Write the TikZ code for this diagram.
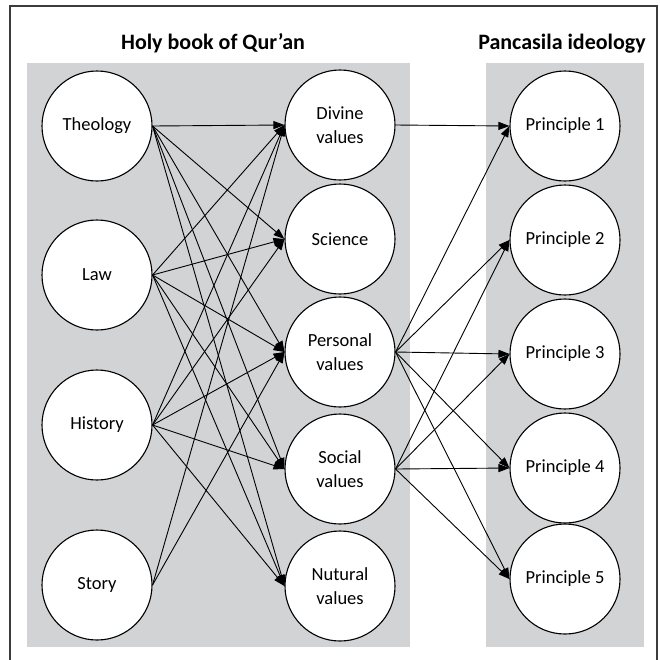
\documentclass[tikz,border=0pt]{standalone}
\usepackage{fontspec}
\setmainfont{Carlito}
\usetikzlibrary{arrows.meta}
\definecolor{panelgray}{RGB}{209,211,212}
\definecolor{framegray}{RGB}{60,60,60}
\tikzset{
  panel/.style={fill=panelgray,draw=none},
  bubble/.style={circle,draw,fill=white,line width=1.1pt,minimum size=110pt,inner sep=0pt,align=center,font=\fontsize{18.5}{23.5}\selectfont},
  ttl/.style={font=\bfseries\fontsize{22}{26}\selectfont,anchor=base},
  lnk/.style={line width=0.9pt,-{Triangle[length=11pt,width=8pt]}}
}
\begin{document}
\begin{tikzpicture}[x=1pt,y=-1pt]
  \useasboundingbox (0,0) rectangle (660,659);
  % frame and panels
  \draw[framegray,line width=1.2pt] (10,670) -- (10,6) -- (657,6) -- (657,670);
  \fill[panel] (27,63) rectangle (410,647);
  \fill[panel] (486,63) rectangle (644,647);
  \node[ttl] (tq) at (213,49) {Holy book of Qur’an};
  \node[ttl] (tp) at (562,49) {Pancasila ideology};
  % sources
  \node[bubble] (theo) at (97,126) {Theology};
  \node[bubble] (law) at (97,275) {Law};
  \node[bubble] (hist) at (97,425) {History};
  \node[bubble] (story) at (97,585) {Story};
  % values
  \node[bubble] (div) at (340,125) {Divine\\values};
  \node[bubble] (sci) at (340,239) {Science};
  \node[bubble] (pers) at (340,352) {Personal\\values};
  \node[bubble] (soc) at (340,469) {Social\\values};
  \node[bubble] (nat) at (340,586) {Nutural\\values};
  % principles
  \node[bubble] (p1) at (565,126) {Principle 1};
  \node[bubble] (p2) at (565,240) {Principle 2};
  \node[bubble] (p3) at (565,354) {Principle 3};
  \node[bubble] (p4) at (565,468) {Principle 4};
  \node[bubble] (p5) at (565,579) {Principle 5};
  % Qur'an links
  \draw[lnk] (theo.east) -- (div.west); \draw[lnk] (theo.east) -- (sci.west); \draw[lnk] (theo.east) -- (pers.west);
  \draw[lnk] (theo.east) -- (soc.west); \draw[lnk] (theo.east) -- (nat.west);
  \draw[lnk] (law.east) -- (div.west); \draw[lnk] (law.east) -- (sci.west); \draw[lnk] (law.east) -- (pers.west);
  \draw[lnk] (law.east) -- (soc.west); \draw[lnk] (law.east) -- (nat.west);
  \draw[lnk] (hist.east) -- (div.west); \draw[lnk] (hist.east) -- (sci.west); \draw[lnk] (hist.east) -- (pers.west);
  \draw[lnk] (hist.east) -- (soc.west); \draw[lnk] (hist.east) -- (nat.west);
  \draw[lnk] (story.east) -- (div.west); \draw[lnk] (story.east) -- (pers.west);
  % Pancasila links
  \draw[lnk] (div.east) -- (p1.west);
  \draw[lnk] (pers.east) -- (p1.west); \draw[lnk] (pers.east) -- (p2.west); \draw[lnk] (pers.east) -- (p3.west);
  \draw[lnk] (pers.east) -- (p4.west); \draw[lnk] (pers.east) -- (p5.west);
  \draw[lnk] (soc.east) -- (p2.west); \draw[lnk] (soc.east) -- (p3.west);
  \draw[lnk] (soc.east) -- (p4.west); \draw[lnk] (soc.east) -- (p5.west);
\end{tikzpicture}
\end{document}
